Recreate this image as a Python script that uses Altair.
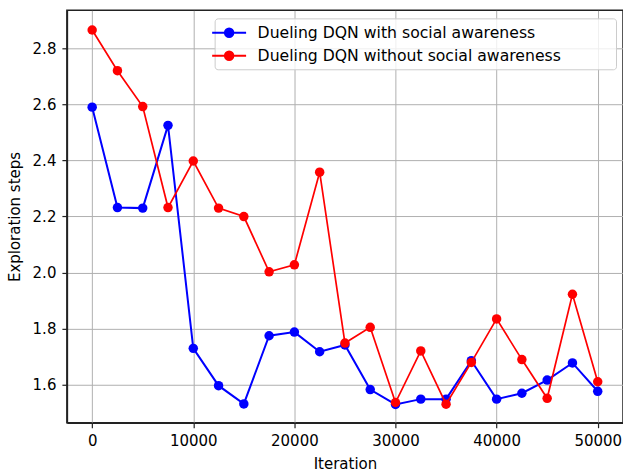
import altair as alt
import pandas as pd

iterations = [0, 2500, 5000, 7500, 10000, 12500, 15000, 17500, 20000, 22500,
              25000, 27500, 30000, 32500, 35000, 37500, 40000, 42500, 45000,
              47500, 50000]
with_social = [2.590, 2.232, 2.230, 2.525, 1.730, 1.597, 1.532, 1.775, 1.788,
               1.718, 1.742, 1.583, 1.530, 1.549, 1.549, 1.686, 1.549, 1.570,
               1.617, 1.678, 1.577]
without_social = [2.865, 2.720, 2.592, 2.232, 2.398, 2.230, 2.200, 2.003, 2.028,
                  2.358, 1.749, 1.805, 1.537, 1.721, 1.531, 1.680, 1.835, 1.690,
                  1.552, 1.923, 1.611]
series_names = ["Dueling DQN with social awareness",
                "Dueling DQN without social awareness"]
series_colors = ["#0000ff", "#ff0000"]

rows = []
for name, vals in zip(series_names, [with_social, without_social]):
    for it, v in zip(iterations, vals):
        rows.append({"Iteration": it, "steps": v, "series": name})
df = pd.DataFrame(rows)

font = "DejaVu Sans"
fs = 15

# line-with-marker legend glyph (path units scale by sqrt(size)/2)
glyph = "M-2,0H2M0.5,0A0.5,0.5,0,1,1,-0.5,0A0.5,0.5,0,1,1,0.5,0Z"

# trailing no-break spaces (closed by a zero-width char so they are not
# trimmed) widen the legend frame on the right
label_tail = "\u00a0" * 10 + "\u200b"

color = alt.Color(
    "series:N",
    scale=alt.Scale(domain=series_names, range=series_colors),
    legend=alt.Legend(
        title=None, orient="none", legendX=148, legendY=8,
        symbolType=glyph, symbolSize=289, symbolStrokeWidth=2,
        labelFont=font, labelFontSize=15.7, labelColor="#000",
        labelExpr=f"datum.label + '{label_tail}'",
        fillColor="rgba(255,255,255,0.8)", strokeColor="#cccccc",
        cornerRadius=3, padding=5, rowPadding=5, labelOffset=19,
        labelLimit=600,
    ),
)

x = alt.X("Iteration:Q", title="Iteration",
          scale=alt.Scale(domain=[-2500, 52500], nice=False, zero=False),
          axis=alt.Axis(values=[0, 10000, 20000, 30000, 40000, 50000],
                        format="d"))
y = alt.Y("steps:Q", title="Exploration steps",
          scale=alt.Scale(domain=[1.465, 2.935], nice=False, zero=False),
          axis=alt.Axis(values=[1.6, 1.8, 2.0, 2.2, 2.4, 2.6, 2.8],
                        format=".1f"))

layers = []
for name, w in zip(series_names, [2, 1.7]):
    layers.append(
        alt.Chart(df).transform_filter(alt.datum.series == name)
        .mark_line(strokeWidth=w,
                   point=alt.OverlayMarkDef(filled=True, size=90, opacity=1))
        .encode(x=x, y=y, color=color)
    )

chart = alt.layer(*layers).properties(
    width=557, height=413, autosize="none",
    padding={"left": 67, "top": 10, "right": 0, "bottom": 50},
).configure_view(stroke="#222", strokeWidth=1.5).configure_axis(
    labelFont=font, labelFontSize=fs, labelColor="#000",
    titleFont=font, titleFontSize=fs, titleColor="#000",
    titleFontWeight="normal",
    grid=True, gridColor="#b0b0b0", gridWidth=1,
    domainColor="#222", domainWidth=1.5,
    tickColor="#222", tickSize=5, tickWidth=1.2,
    labelPadding=6,
).configure_axisX(titlePadding=8).configure_axisY(titlePadding=10)

chart.save("out.html", embed_options={"renderer": "svg", "actions": False})
